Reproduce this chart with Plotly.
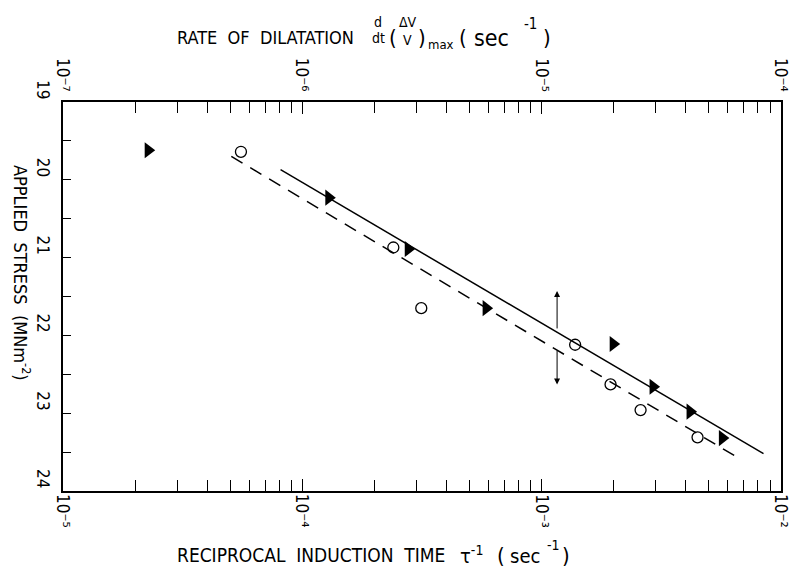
import math
import plotly.graph_objects as go

# ---------------- data ----------------
tri_x = [2.27e-5, 1.29e-4, 2.77e-4, 5.86e-4, 1.99e-3, 2.92e-3, 4.17e-3, 5.69e-3]
tri_y = [19.62, 20.23, 20.89, 21.65, 22.11, 22.66, 22.98, 23.32]

circ_x = [5.54e-5, 2.40e-4, 3.14e-4, 1.38e-3, 1.94e-3, 2.59e-3, 4.48e-3]
circ_y = [19.64, 20.87, 21.65, 22.12, 22.63, 22.96, 23.31]

solid_x = [8.11e-5, 8.45e-3]
solid_y = [19.87, 23.52]
dash_x = [5.05e-5, 6.43e-3]
dash_y = [19.70, 23.55]

arrow_x = 1.16e-3
arrow_up_y = [21.93, 21.43]     # tail, head
arrow_down_y = [22.18, 22.63]   # tail, head

bottom_tickvals = [1e-5, 1e-4, 1e-3, 1e-2]
bottom_ticktext = ["10⁻⁵", "10⁻⁴", "10⁻³", "10⁻²"]
top_tickvals = [1e-7, 1e-6, 1e-5, 1e-4]
top_ticktext = ["10⁻⁷", "10⁻⁶", "10⁻⁵", "10⁻⁴"]
y_tickvals = [19, 20, 21, 22, 23, 24]
y_ticktext = ["19", "20", "21", "22", "23", "24"]
y_minor = [19.5, 20.5, 21.5, 22.5, 23.5]

FONT = "DejaVu Sans Condensed, DejaVu Sans, Liberation Sans"
ANGLE = 89.9

def log_minor(lo, hi):
    return [m * 10.0 ** e for e in range(lo, hi) for m in range(2, 10)]

fig = go.Figure()

fig.add_trace(go.Scatter(x=solid_x, y=solid_y, mode="lines",
                         line=dict(color="black", width=1.5), showlegend=False, hoverinfo="skip"))
fig.add_trace(go.Scatter(x=dash_x, y=dash_y, mode="lines",
                         line=dict(color="black", width=1.5, dash="13px,9px"), showlegend=False, hoverinfo="skip"))
fig.add_trace(go.Scatter(x=tri_x, y=tri_y, mode="markers",
                         marker=dict(symbol="triangle-right", size=14, color="black",
                                     line=dict(color="black", width=0)), showlegend=False))
fig.add_trace(go.Scatter(x=circ_x, y=circ_y, mode="markers",
                         marker=dict(symbol="circle-open", size=11, color="black",
                                     line=dict(color="black", width=1.3)), showlegend=False))
# invisible trace to anchor the top axis
fig.add_trace(go.Scatter(x=top_tickvals, y=[y_tickvals[0]] * len(top_tickvals), xaxis="x2",
                         mode="markers", marker=dict(opacity=0), showlegend=False, hoverinfo="skip"))

# vertical double arrow
for ys in (arrow_up_y, arrow_down_y):
    fig.add_annotation(x=math.log10(arrow_x), y=ys[1], ax=math.log10(arrow_x), ay=ys[0],
                       xref="x", yref="y", axref="x", ayref="y", text="",
                       showarrow=True, arrowhead=2, arrowsize=1.2, arrowwidth=1, arrowcolor="black")

tickfont = dict(family=FONT, size=17, color="black")

fig.update_layout(
    width=794, height=569,
    margin=dict(l=63, r=13, t=102, b=78),
    paper_bgcolor="white", plot_bgcolor="white",
    font=dict(family=FONT, color="black"),
    xaxis=dict(type="log", range=[-5, -2], tickvals=bottom_tickvals, showticklabels=False,
               ticks="inside", ticklen=12, tickwidth=1,
               tickcolor="black", showline=True, linecolor="black", linewidth=1.5,
               showgrid=False, zeroline=False,
               minor=dict(tickvals=log_minor(-5, -2), ticks="inside", ticklen=11,
                          tickwidth=1, tickcolor="black", showgrid=False)),
    xaxis2=dict(type="log", range=[-7, -4], overlaying="x", side="top", anchor="y",
                tickvals=top_tickvals, showticklabels=False,
                ticks="inside", ticklen=12, tickwidth=1,
                tickcolor="black", showline=True, linecolor="black", linewidth=1.5,
                showgrid=False, zeroline=False,
                minor=dict(tickvals=log_minor(-7, -4), ticks="inside", ticklen=11,
                           tickwidth=1, tickcolor="black", showgrid=False)),
    yaxis=dict(range=[24, 19], tickvals=y_tickvals, ticktext=y_ticktext, tickangle=ANGLE,
               tickfont=tickfont, ticks="inside", ticklen=8, tickwidth=1, tickcolor="black",
               ticklabelstandoff=12,
               showline=True, linecolor="black", linewidth=1.5, mirror=True,
               showgrid=False, zeroline=False,
               minor=dict(tickvals=y_minor, ticks="inside", ticklen=8, tickwidth=1,
                          tickcolor="black", showgrid=False)),
)

# rotated x tick labels (placed on the axes' own scales)
for v, t in zip(bottom_tickvals, bottom_ticktext):
    fig.add_annotation(x=math.log10(v), y=0, xref="x", yref="paper", text=t,
                       showarrow=False, textangle=90, xanchor="center", yanchor="middle",
                       yshift=-20, font=dict(family=FONT, size=17, color="black"))
for v, t in zip(top_tickvals, top_ticktext):
    fig.add_annotation(x=math.log10(v), y=1, xref="x2", yref="paper", text=t,
                       showarrow=False, textangle=90, xanchor="center", yanchor="middle",
                       yshift=27, font=dict(family=FONT, size=17, color="black"))

# ---- titles (built from text pieces) ----
L, T = 63, 102
PW, PH = 794 - 63 - 13, 569 - 102 - 78

def px(xp):
    return (xp - L) / PW

def py(yp):
    return (T + PH - yp) / PH

def txt(xp, yp, s, size=15, xanchor="center", angle=0):
    fig.add_annotation(x=px(xp), y=py(yp), xref="paper", yref="paper", text=s,
                       showarrow=False, xanchor=xanchor, yanchor="middle", textangle=angle,
                       font=dict(family=FONT, size=size, color="black"))

# top title
txt(175, 37, "RATE  OF  DILATATION", 18, xanchor="left")
txt(378, 22, "d", 14)
txt(378, 38, "dt", 14)
txt(393, 37, "(", 22)
txt(408, 22, "ΔV", 14)
txt(407, 40, "V", 14)
txt(422, 37, ")", 22)
txt(426, 44, "max", 13, xanchor="left")
txt(463, 37, "(", 22)
txt(472, 38, "sec", 23, xanchor="left")
txt(522, 24, "-1", 15, xanchor="left")
txt(547, 37, ")", 22)

# bottom title
txt(175, 555, "RECIPROCAL  INDUCTION  TIME", 19, xanchor="left")
txt(458, 555, "τ<sup>-1</sup>", 20, xanchor="left")
txt(495, 555, "(", 22, xanchor="left")
txt(508, 556, "sec", 20, xanchor="left")
txt(545, 545, "-1", 14, xanchor="left")
txt(560, 555, ")", 22, xanchor="left")

# left title (reads top to bottom)
txt(22, 273, "APPLIED  STRESS  (MNm<sup>-2</sup>)", 18, angle=90)

fig.write_html("out.html")
